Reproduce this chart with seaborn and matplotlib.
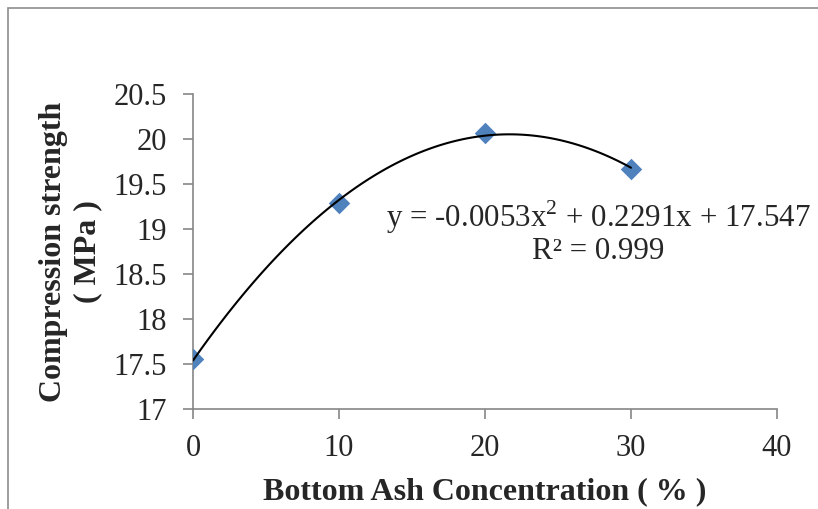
import matplotlib
matplotlib.use("Agg")
import matplotlib.pyplot as plt
import seaborn as sns
import pandas as pd
from matplotlib.patches import Rectangle

# data
ash_pct = [0, 10, 20, 30]
strength = [17.55, 19.29, 20.07, 19.67]
x_ticks = [0, 10, 20, 30, 40]
y_ticks = [17, 17.5, 18, 18.5, 19, 19.5, 20, 20.5]
eq_text = "y = -0.0053x$^2$ + 0.2291x + 17.547\nR² = 0.999"

df = pd.DataFrame({"ash": ash_pct, "strength": strength})

sns.set_style("white")
plt.rcParams['font.family'] = ['Liberation Serif', 'DejaVu Serif']
plt.rcParams['mathtext.fontset'] = 'custom'
plt.rcParams['mathtext.rm'] = 'Liberation Serif'

fig = plt.figure(figsize=(8.18, 5.09), dpi=100)
ax = fig.add_axes([193/818, 1 - 409/509, (777-193)/818, (409-94)/509])

sns.regplot(data=df, x="ash", y="strength", order=2, ci=None, ax=ax,
            marker="D", scatter_kws=dict(s=120, color="#4F81BD", alpha=1, linewidths=0, zorder=3),
            line_kws=dict(color="black", lw=1.5, zorder=4))

ax.set_xlim(0, 40)
ax.set_ylim(17, 20.5)
ax.set_xticks(x_ticks)
ax.set_yticks(y_ticks)
ax.set_yticklabels([f"{v:g}" for v in y_ticks])
ax.tick_params(axis="both", direction="out", length=7, width=1.2, color="#868686",
               labelsize=22, bottom=True, left=True)
ax.tick_params(axis="x", pad=11)
ax.tick_params(axis="y", pad=12)
ax.set_xlabel("Bottom Ash Concentration ( % )", fontsize=23, fontweight="bold", labelpad=10)
ax.set_ylabel("Compression strength\n( MPa )", fontsize=23, fontweight="bold", labelpad=8,
              linespacing=1.25)
for s in ["top", "right"]:
    ax.spines[s].set_visible(False)
for s in ["left", "bottom"]:
    ax.spines[s].set_color("#868686")
    ax.spines[s].set_linewidth(1.2)
ax.set_clip_on(False)

fig.text(386/818, 1 - 232/509, eq_text, fontsize=22.3, ha="left", va="center",
         multialignment="center", linespacing=1.05)

# outer chart-area border, cut off at right and bottom
fig.patches.append(Rectangle((8/818, -0.2), 2, 1.2 - 8/509, transform=fig.transFigure,
                             fill=False, ec="#8c8c8c", lw=1.2))

fig.savefig("out.png", dpi=100)
